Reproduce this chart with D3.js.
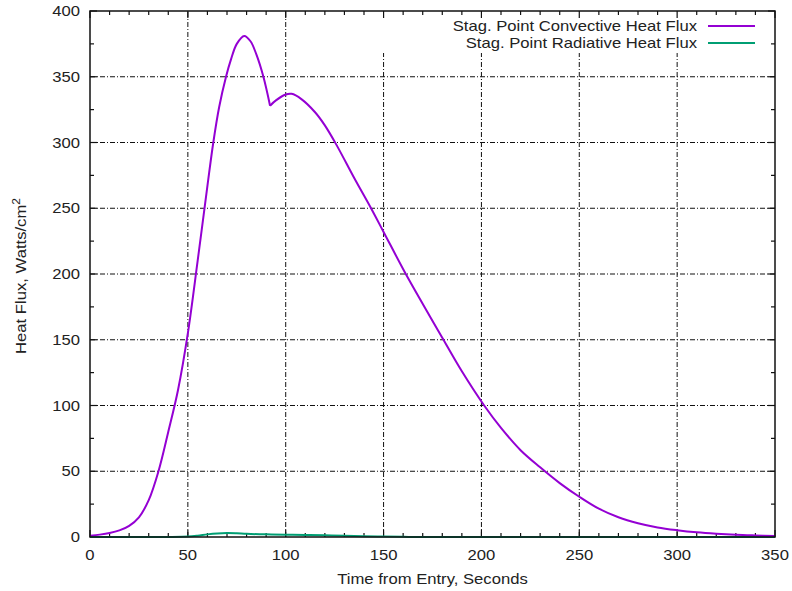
<!DOCTYPE html>
<meta charset="utf-8">
<head>
<script src="https://d3js.org/d3.v7.min.js"></script>
<style>
  body { margin: 0; background: #fff; }
  text { font-family: "Liberation Sans", Arial, sans-serif; font-size: 14px; fill: #222; }
</style>
</head>
<body>
<svg id="chart" width="792" height="591"></svg>
<script>

// time (s) and convective heat flux (W/cm^2)
var convTime = [0, 5, 10, 15, 20, 25, 30, 35, 40, 45, 50, 55, 60, 63, 66, 69.5, 72, 75, 78.8, 82, 85, 88.6, 92,
                95, 100, 103, 108, 115, 120, 126, 135, 143.6, 150, 161, 174, 180, 190, 201.4, 210, 220, 230, 240, 250,
                260, 270, 280, 290, 300, 310, 320, 330, 340, 350];
var convFlux = [1, 1.8, 3, 5, 8.5, 15, 28, 50, 80, 112, 155, 210, 267, 300, 327, 350, 363, 375, 381, 377, 367, 350, 328,
                332, 336.5, 337, 333, 323, 313, 298, 273, 250, 232, 201, 167, 151.5, 126, 100, 83, 66, 53, 41, 30.6,
                21.5, 15, 10.5, 7.3, 5.2, 3.6, 2.5, 1.7, 1.2, 0.8];
// the curve has a corner at t = 92 s
var kinkTime = 92;

var radTime = [0, 40, 50, 55, 60, 65, 70, 75, 80, 90, 100, 110, 120, 130, 140, 150, 160, 170, 350];
var radFlux = [0, 0, 0.3, 1, 2, 2.7, 3, 2.8, 2.4, 2, 1.8, 1.6, 1.3, 1, 0.6, 0.3, 0.1, 0, 0];

var seriesNames = ["Stag. Point Convective Heat Flux", "Stag. Point Radiative Heat Flux"];
var seriesColors = ["#9400d3", "#009e73"];

var xMajor = [0, 50, 100, 150, 200, 250, 300, 350];
var yMajor = [0, 50, 100, 150, 200, 250, 300, 350, 400];

var svg = d3.select("#chart");
var plotLeft = 90, plotRight = 775, plotTop = 11, plotBottom = 537;
var stretch = 1.19; // the original lettering is wide

var x = d3.scaleLinear().domain([0, 350]).range([plotLeft, plotRight]);
var y = d3.scaleLinear().domain([0, 400]).range([plotBottom, plotTop]);

function label(g, px, py, str, anchor, rot) {
  return g.append("text")
    .attr("transform", "translate(" + px + "," + py + ")" + (rot ? " rotate(" + rot + ")" : "") + " scale(" + stretch + ",1)")
    .attr("text-anchor", anchor)
    .text(str);
}

// grid
var grid = svg.append("g")
  .attr("stroke", "#111")
  .attr("stroke-width", 1)
  .attr("stroke-dasharray", "5,2,1,2");

// legend area is blanked out, so gridlines stop below it
var legTop = 53, legLeft = 350;

xMajor.slice(1, -1).forEach(function(v) {
  grid.append("line")
    .attr("x1", x(v)).attr("x2", x(v))
    .attr("y1", plotBottom)
    .attr("y2", x(v) > legLeft ? legTop : plotTop);
});
yMajor.slice(1, -1).forEach(function(v) {
  grid.append("line")
    .attr("x1", plotLeft).attr("x2", plotRight)
    .attr("y1", y(v)).attr("y2", y(v));
});

// ticks (inward, on all four sides)
var ticks = svg.append("g").attr("stroke", "#111").attr("stroke-width", 1.2);
d3.range(0, 351, 10).forEach(function(v) {
  var len = v % 50 === 0 ? 7 : 4;
  ticks.append("line").attr("x1", x(v)).attr("x2", x(v)).attr("y1", plotBottom).attr("y2", plotBottom - len);
  ticks.append("line").attr("x1", x(v)).attr("x2", x(v)).attr("y1", plotTop).attr("y2", plotTop + len);
});
d3.range(0, 401, 25).forEach(function(v) {
  var len = v % 50 === 0 ? 7 : 4;
  ticks.append("line").attr("x1", plotLeft).attr("x2", plotLeft + len).attr("y1", y(v)).attr("y2", y(v));
  ticks.append("line").attr("x1", plotRight).attr("x2", plotRight - len).attr("y1", y(v)).attr("y2", y(v));
});

// tick labels
var xl = svg.append("g");
xMajor.forEach(function(d) { label(xl, x(d), 560, d, "middle"); });
var yl = svg.append("g");
yMajor.forEach(function(d) { label(yl, 80, y(d) + 5, d, "end"); });

// axis titles
label(svg, (plotLeft + plotRight) / 2, 584, "Time from Entry, Seconds", "middle");

var yt = label(svg, 26, (plotTop + plotBottom) / 2 + 2, "", "middle", -90);
yt.append("tspan").text("Heat Flux, Watts/cm");
yt.append("tspan").attr("dy", -6).attr("font-size", "10px").text("2");

// curves
var line = d3.line()
  .x(function(d) { return x(d[0]); })
  .y(function(d) { return y(d[1]); })
  .curve(d3.curveCatmullRom.alpha(0.5));

var conv = convTime.map(function(t, i) { return [t, convFlux[i]]; });
var rad = radTime.map(function(t, i) { return [t, radFlux[i]]; });

svg.append("path")
  .datum(rad)
  .attr("d", line)
  .attr("fill", "none")
  .attr("stroke", seriesColors[1])
  .attr("stroke-width", 2);

[conv.filter(function(d) { return d[0] <= kinkTime; }),
 conv.filter(function(d) { return d[0] >= kinkTime; })].forEach(function(part) {
  svg.append("path")
    .datum(part)
    .attr("d", line)
    .attr("fill", "none")
    .attr("stroke", seriesColors[0])
    .attr("stroke-width", 2);
});

// frame
svg.append("rect")
  .attr("x", plotLeft).attr("y", plotTop)
  .attr("width", plotRight - plotLeft).attr("height", plotBottom - plotTop)
  .attr("fill", "none")
  .attr("stroke", "#111")
  .attr("stroke-width", 1.5);

// legend
var legend = svg.append("g");
seriesNames.forEach(function(name, i) {
  var ly = 26 + i * 17;
  label(legend, 697, ly + 5, name, "end");
  legend.append("line")
    .attr("x1", 708).attr("x2", 755)
    .attr("y1", ly).attr("y2", ly)
    .attr("stroke", seriesColors[i])
    .attr("stroke-width", 2);
});

</script>
</body>
